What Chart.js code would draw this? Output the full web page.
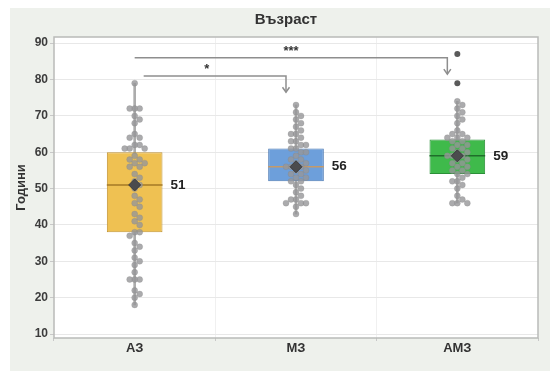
<!DOCTYPE html>
<html>
<head>
<meta charset="utf-8">
<script src="https://cdn.jsdelivr.net/npm/chart.js@4.4.1/dist/chart.umd.min.js"></script>
<style>
  html, body { margin: 0; padding: 0; background: #ffffff; }
  #wrap { width: 550px; height: 371px; position: relative; }
  #chart { display: block; }
</style>
</head>
<body>
<div id="wrap"><canvas id="chart" width="550" height="371"></canvas></div>
<script>
// Groups on the x axis
const groups = ['АЗ', 'МЗ', 'АМЗ'];
const chartTitle = 'Възраст';

// Individual ages per group
const agesAZ = [79, 72, 72, 72, 70, 69, 68, 65, 64, 64, 62, 62, 61, 61, 61,
  59, 58, 58, 57, 57, 56, 56, 54, 53, 52, 51, 50, 48, 47, 46, 45,
  43, 42, 41, 40, 38, 38, 37, 35, 34, 33, 31, 30, 29, 27, 25, 25, 25,
  22, 21, 20, 18];
const agesMZ = [73, 71, 70, 69, 68, 67, 66, 65, 65, 64, 63, 63, 62, 62, 61, 61,
  60, 60, 59, 58, 58, 57, 57, 56, 56, 56, 55, 55, 54, 54, 53, 53, 52, 52,
  51, 50, 49, 48, 47, 47, 46, 46, 46, 45, 43];
const agesAMZ = [74, 73, 72, 71, 70, 69, 68, 66, 65, 65, 64, 64, 64, 63, 63, 62, 62,
  61, 61, 60, 60, 59, 59, 59, 58, 58, 57, 57, 56, 56, 55, 55, 54, 54, 53,
  52, 52, 51, 50, 48, 47, 46, 46, 46];
const outliersAMZ = [87, 79];

// Box statistics per group
const q1 = [38, 52, 54];
const medians = [51, 56, 59];
const q3 = [60, 61, 63.5];
const whiskerLow = [18, 43, 46];
const whiskerHigh = [79, 73, 74];
const means = [51, 56, 59];

// Axis ticks
const yTicks = [10, 20, 30, 40, 50, 60, 70, 80, 90];

// Pairwise comparisons
const compFrom = [0, 0];
const compTo = [1, 2];
const compLevel = [81, 86];
const compArrowEnd = [76.5, 81.5];
const compLabel = ['*', '***'];

const boxFill = ['#efc152', '#6d9fdb', '#3fba4b'];
const boxEdge = ['#c29433', '#4a78b2', '#2b8f38'];
const medianColor = ['#a57826', '#c39a6a', '#1f6e2a'];

const ageGroups = [agesAZ, agesMZ, agesAMZ];
const dotData = ageGroups.flatMap((arr, g) => arr.map(v => ({ x: g, y: v })));
const outlierData = outliersAMZ.map(v => ({ x: 2, y: v }));
const meanData = means.map((v, g) => ({ x: g, y: v }));
const boxData = groups.map((_, g) => ({ x: g, y: [q1[g], q3[g]] }));
const whiskerData = groups.map((_, g) => ({ x: g, y: [whiskerLow[g], whiskerHigh[g]] }));

const FONT = "'Liberation Sans', Arial, sans-serif";

// Spread points of equal/near values sideways (beeswarm) in pixel space
function beeswarm(points, minDist, step) {
  const placed = [];
  points.slice().sort((a, b) => a.y - b.y).forEach(p => {
    let off = 0;
    for (let k = 0; k < 60; k++) {
      off = (k % 2 ? 1 : -1) * Math.ceil(k / 2) * step;
      const hit = placed.some(q => Math.hypot(q.x - off, q.y - p.y) < minDist);
      if (!hit) break;
    }
    p.off = off;
    placed.push({ x: off, y: p.y });
  });
}

const swarmPlugin = {
  id: 'swarm',
  afterDatasetUpdate(chart, args) {
    const ds = chart.data.datasets[args.index];
    if (!ds.swarm) return;
    const byGroup = {};
    args.meta.data.forEach((el, i) => {
      const g = ds.data[i].x;
      (byGroup[g] = byGroup[g] || []).push({ el, y: el.y });
    });
    Object.values(byGroup).forEach(pts => {
      beeswarm(pts, 3.65, 5);
      pts.forEach(p => { p.el.x += p.off; });
    });
  }
};

const panelPlugin = {
  id: 'panel',
  beforeDraw(chart) {
    const { ctx, width, height, chartArea: a } = chart;
    ctx.save();
    ctx.fillStyle = '#ffffff';
    ctx.fillRect(0, 0, width, height);
    ctx.fillStyle = '#eef1ec';
    ctx.fillRect(10, 8, width - 10, height - 8);
    ctx.fillStyle = '#ffffff';
    ctx.fillRect(a.left, a.top, a.right - a.left, a.bottom - a.top);
    // chart title, centred a little left of the plot centre
    ctx.fillStyle = '#333333';
    ctx.font = 'bold 15px ' + FONT;
    ctx.textAlign = 'center';
    ctx.textBaseline = 'middle';
    ctx.fillText(chartTitle, (a.left + a.right) / 2 - 10, a.top / 2 + 1);
    ctx.restore();
  },
  beforeDatasetsDraw(chart) {
    const { ctx, chartArea: a } = chart;
    ctx.save();
    ctx.strokeStyle = '#b9bbb8';
    ctx.lineWidth = 1.5;
    ctx.strokeRect(a.left, a.top, a.right - a.left, a.bottom - a.top);
    ctx.restore();
  },
  afterDatasetDraw(chart, args) {
    const ds = chart.data.datasets[args.index];
    if (ds.id !== 'boxes') return;
    const { ctx } = chart;
    const ys = chart.scales.y;
    ctx.save();
    args.meta.data.forEach((bar, g) => {
      const half = bar.width / 2;
      const y = ys.getPixelForValue(medians[g]);
      ctx.strokeStyle = medianColor[g];
      ctx.lineWidth = 1.5;
      ctx.beginPath();
      ctx.moveTo(bar.x - half, y);
      ctx.lineTo(bar.x + half, y);
      ctx.stroke();
    });
    ctx.restore();
  },
  afterDatasetsDraw(chart) {
    const { ctx } = chart;
    const xs = chart.scales.x, ys = chart.scales.y;
    const boxMeta = chart.getDatasetMeta(chart.data.datasets.findIndex(d => d.id === 'boxes'));
    ctx.save();
    // mean value labels beside each box
    ctx.fillStyle = '#222222';
    ctx.font = 'bold 13.5px ' + FONT;
    ctx.textAlign = 'left';
    ctx.textBaseline = 'middle';
    boxMeta.data.forEach((bar, g) => {
      ctx.fillText(String(means[g]), bar.x + bar.width / 2 + 8, ys.getPixelForValue(means[g]));
    });
    // significance brackets
    ctx.strokeStyle = '#8e8e8e';
    ctx.lineWidth = 1.5;
    compFrom.forEach((f, i) => {
      const x1 = xs.getPixelForValue(f) + (i === 0 ? 9 : 0);
      const x2 = xs.getPixelForValue(compTo[i]) - 10;
      const y = ys.getPixelForValue(compLevel[i]);
      const yEnd = ys.getPixelForValue(compArrowEnd[i]);
      ctx.beginPath();
      ctx.moveTo(x1, y);
      ctx.lineTo(x2, y);
      ctx.lineTo(x2, yEnd);
      ctx.stroke();
      ctx.beginPath();
      ctx.moveTo(x2 - 3.5, yEnd - 5);
      ctx.lineTo(x2, yEnd);
      ctx.lineTo(x2 + 3.5, yEnd - 5);
      ctx.stroke();
      ctx.fillStyle = '#333333';
      ctx.font = 'bold 13px ' + FONT;
      ctx.textAlign = 'center';
      ctx.textBaseline = 'middle';
      ctx.fillText(compLabel[i], (x1 + x2) / 2 - (i === 0 ? 8 : 0), y - 6);
    });
    ctx.restore();
  }
};

new Chart(document.getElementById('chart'), {
  data: {
    datasets: [
      {
        type: 'scatter', data: meanData, order: 0,
        pointStyle: 'rectRot', radius: 6, hoverRadius: 6,
        backgroundColor: '#4b4b4d', borderColor: '#3a3a3c', borderWidth: 1
      },
      {
        type: 'scatter', data: outlierData, order: 1,
        radius: 3, hoverRadius: 3,
        backgroundColor: '#5a5a5a', borderColor: '#5a5a5a', borderWidth: 0
      },
      {
        type: 'scatter', data: dotData, order: 2, swarm: true,
        radius: 3, hoverRadius: 3,
        backgroundColor: 'rgba(150,150,152,0.8)', borderColor: 'rgba(130,130,132,0.5)', borderWidth: 0.5
      },
      {
        id: 'boxes', type: 'bar', data: boxData, order: 3, grouped: false,
        backgroundColor: boxFill, borderColor: boxEdge, borderWidth: 1, borderSkipped: false,
        barPercentage: 0.345, categoryPercentage: 1
      },
      {
        type: 'bar', data: whiskerData, order: 4, grouped: false,
        backgroundColor: '#acacac', borderWidth: 0, barThickness: 2
      }
    ]
  },
  options: {
    responsive: false,
    animation: false,
    events: [],
    layout: { padding: { left: 0, right: 12, top: 37, bottom: 0 } },
    plugins: {
      legend: { display: false },
      tooltip: { enabled: false },
      title: { display: false }
    },
    scales: {
      x: {
        type: 'linear', min: -0.5, max: 2.5, offset: false,
        afterBuildTicks: s => { s.ticks = groups.map((_, g) => ({ value: g })); },
        afterFit: s => { s.height = 33; },
        ticks: {
          callback: v => groups[v], color: '#333333', padding: 0,
          font: { family: FONT, size: 13, weight: 'bold' }
        },
        grid: { color: '#f0f0f0', tickColor: '#c8c8c8', tickLength: 3 },
        border: { display: false }
      },
      y: {
        type: 'linear', min: 8.9, max: 91.7,
        afterBuildTicks: s => { s.ticks = yTicks.map(v => ({ value: v })); },
        afterFit: s => { s.width = 54; },
        ticks: {
          color: '#3c3c3c', padding: 2,
          font: { family: FONT, size: 12, weight: 'bold' }
        },
        grid: { color: '#e8e8e8', tickColor: '#c8c8c8', tickLength: 4 },
        border: { display: false },
        title: {
          display: true, text: 'Години', color: '#333333',
          font: { family: FONT, size: 13, weight: 'bold' },
          padding: { top: 14, bottom: 0 }
        }
      }
    }
  },
  plugins: [swarmPlugin, panelPlugin]
});
</script>
</body>
</html>
